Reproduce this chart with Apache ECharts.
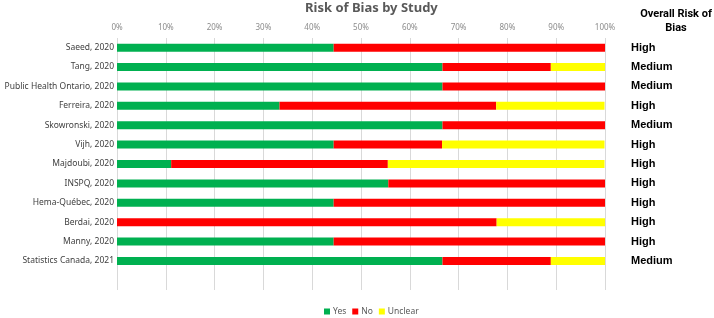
<!DOCTYPE html>
<html>
<head>
<meta charset="utf-8">
<script src="https://cdn.jsdelivr.net/npm/echarts@6/dist/echarts.min.js"></script>
<style>
  html, body { margin: 0; padding: 0; background: #fff; }
  #chart { width: 714px; height: 318px; }
</style>
</head>
<body>
<div id="chart"></div>
<script>
// studies, top to bottom (last one blank: Excel left an empty row at the bottom)
var studies = ['Saeed, 2020', 'Tang, 2020', 'Public Health Ontario, 2020', 'Ferreira, 2020',
    'Skowronski, 2020', 'Vijh, 2020', 'Majdoubi, 2020', 'INSPQ, 2020', 'Hema-Québec, 2020',
    'Berdai, 2020', 'Manny, 2020', 'Statistics Canada, 2021', ''];
var overall = ['High', 'Medium', 'Medium', 'High', 'Medium', 'High', 'High', 'High', 'High',
    'High', 'High', 'Medium', ''];

// percent of items answered
var yesVals = [44.4, 66.7, 66.7, 33.3, 66.7, 44.4, 11.1, 55.6, 44.4, 0, 44.4, 66.7, null];
var noVals = [55.6, 22.2, 33.3, 44.4, 33.3, 22.2, 44.4, 44.4, 55.6, 77.8, 55.6, 22.2, null];
var unclearVals = [0, 11.1, 0, 22.2, 0, 33.3, 44.4, 0, 0, 22.2, 0, 11.1, null];

var chart = echarts.init(document.getElementById('chart'));

var labelFont = 'Noto Sans';

var option = {
    animation: false,
    title: {
        text: 'Risk of Bias by Study',
        left: 300,
        top: -3,
        textStyle: { fontSize: 13, fontWeight: 'bold', color: '#595959', fontFamily: labelFont }
    },
    legend: {
        data: ['Yes', 'No', 'Unclear'],
        bottom: -3,
        left: 319,
        icon: 'rect',
        itemWidth: 6,
        itemHeight: 6,
        itemGap: 6,
        textStyle: { fontSize: 8.5, color: '#595959', fontFamily: labelFont, padding: [0, 0, 0, -2] }
    },
    grid: { left: 117, right: 109, top: 38, bottom: 28 },
    xAxis: {
        type: 'value',
        position: 'top',
        min: 0,
        max: 100,
        interval: 10,
        axisLine: { show: false },
        axisTick: { show: false },
        axisLabel: {
            formatter: '{value}%',
            fontSize: 8,
            color: '#8c8c8c',
            fontFamily: labelFont,
            margin: 6
        },
        splitLine: { lineStyle: { color: '#d9d9d9', width: 1 } }
    },
    yAxis: [
        {
            type: 'category',
            data: studies,
            inverse: true,
            axisLine: { show: false },
            axisTick: { show: false },
            axisLabel: { fontSize: 8.5, color: '#404040', fontFamily: labelFont, margin: 3 }
        },
        {
            type: 'category',
            data: overall,
            inverse: true,
            position: 'right',
            axisLine: { show: false },
            axisTick: { show: false },
            axisLabel: {
                align: 'left',
                margin: 26,
                fontSize: 11,
                fontWeight: 'bold',
                color: '#000',
                fontFamily: 'Liberation Sans'
            }
        }
    ],
    graphic: [
        {
            type: 'text',
            x: 676,
            y: 7,
            style: {
                text: 'Overall Risk of\nBias',
                textAlign: 'center',
                font: 'bold 11px Roboto',
                fill: '#000',
                lineHeight: 14
            }
        }
    ],
    series: [
        {
            name: 'Yes', type: 'bar', stack: 'total', data: yesVals,
            barWidth: 8, itemStyle: { color: '#00b050' }
        },
        {
            name: 'No', type: 'bar', stack: 'total', data: noVals,
            barWidth: 8, itemStyle: { color: '#ff0000' }
        },
        {
            name: 'Unclear', type: 'bar', stack: 'total', data: unclearVals,
            barWidth: 8, itemStyle: { color: '#ffff00' }
        }
    ]
};

chart.setOption(option);
</script>
</body>
</html>
